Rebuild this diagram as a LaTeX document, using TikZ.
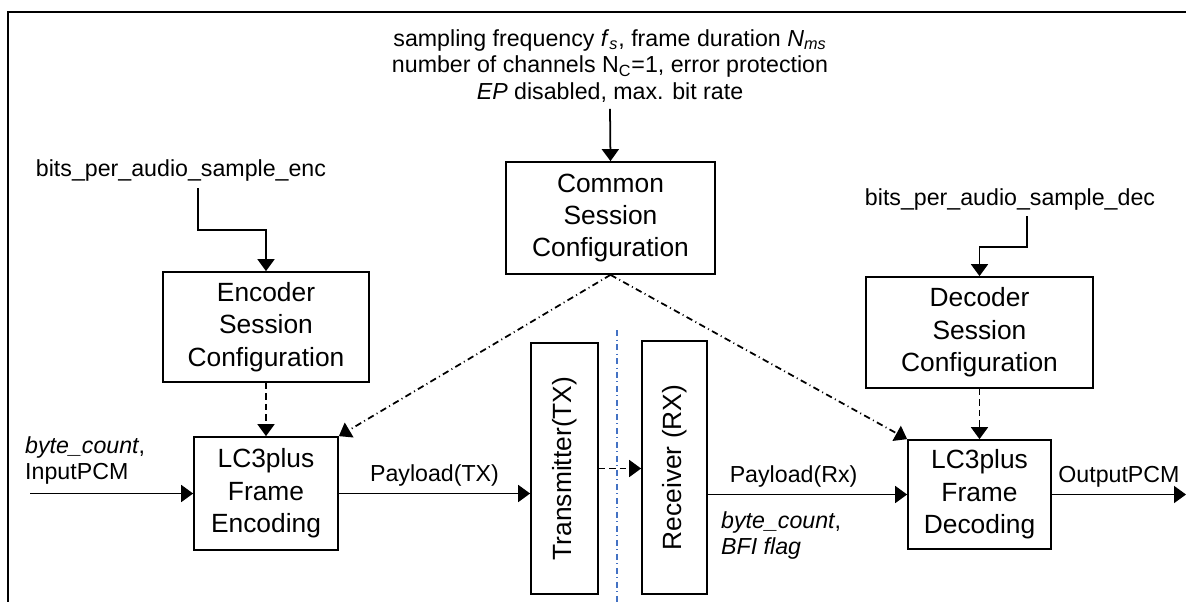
\documentclass[tikz,border=0pt]{standalone}
\usepackage{fontspec}
\setmainfont{Liberation Sans}
\usetikzlibrary{arrows.meta}
\definecolor{sepblue}{RGB}{68,114,196}
\tikzset{
  blk/.style={draw, line width=1pt, align=center, inner sep=0pt, font=\fontsize{15}{18.4}\selectfont},
  txt/.style={align=center, font=\fontsize{13.2}{15.3}\selectfont},
  arr/.style={line width=1pt, -{Triangle[length=0.24cm,width=0.34cm]}},
  dsh/.style={arr, dash pattern=on 0.13cm off 0.08cm},
  dshdot/.style={arr, dash pattern=on 0.13cm off 0.07cm on 0.02cm off 0.07cm},
}

\begin{document}
\begin{tikzpicture}[x=0.02cm,y=-0.02cm]
\useasboundingbox (0,0) rectangle (1186,602);
\draw [line width=1.1pt] (1186,12) -- (8,12) -- (8,602);
\draw [sepblue, line width=0.9pt, dash pattern=on 0.12cm off 0.07cm on 0.02cm off 0.07cm] (617,330) -- (617,602);

\node[txt] (params) at (610,66) {sampling frequency \textit{f}\textsubscript{\textit{s}}, frame duration \textit{N}\textsubscript{\textit{ms}}\\number of channels N\textsubscript{C}=1, error protection\\\textit{EP} disabled, max. bit rate};
\node[txt] (encparam) at (181,171) {bits\_per\_audio\_sample\_enc};
\node[txt] (decparam) at (1010,199) {bits\_per\_audio\_sample\_dec};

\node[blk, minimum width=4.18cm, minimum height=2.24cm] (common) at (610.5,218) {Common\\Session\\Configuration};
\node[blk, minimum width=4.12cm, minimum height=2.2cm] (encsess) at (266,327) {Encoder\\Session\\Configuration};
\node[blk, minimum width=2.88cm, minimum height=2.26cm] (enc) at (266,493.5) {LC3plus\\Frame\\Encoding};
\node[blk, minimum width=1.34cm, minimum height=5.02cm] (tx) at (564.5,468.5) {\rotatebox{90}{Transmitter(TX)}};
\node[blk, minimum width=1.3cm, minimum height=5.06cm] (rx) at (674.5,467.5) {\rotatebox{90}{Receiver (RX)}};
\node[blk, minimum width=4.54cm, minimum height=2.22cm] (decsess) at (979.5,332.5) {Decoder\\Session\\Configuration};
\node[blk, minimum width=2.86cm, minimum height=2.18cm] (dec) at (979.5,494.5) {LC3plus\\Frame\\Decoding};

\node[txt, align=left, anchor=north west] (inlbl) at (19,430) {\textit{byte\_count},\\InputPCM};
\node[txt, align=left, anchor=north west] (rxinfo) at (715,505) {\textit{byte\_count},\\\textit{BFI flag}};

\coordinate (encbend) at (198,230);
\coordinate (decbend) at (1027,247);
\coordinate (pcmin) at (30,493.5);
\coordinate (pcmout) at (1186,494.5);

\draw [arr] (params.south) -- (common.north);
\draw [arr] (encparam.south -| encbend) -- (encbend) -| (encsess.north);
\draw [arr] (decparam.south -| decbend) -- (decbend) -| (decsess.north);
\draw [dsh] (encsess.south) -- (enc.north);
\draw [dsh] (decsess.south) -- (dec.north);
\draw [dshdot] (common.south) -- (enc.north east);
\draw [dshdot] (common.south) -- (dec.north west);
\draw [arr] (pcmin) -- (enc.west);
\draw [arr] (enc.east) -- node[txt, above] {Payload(TX)} (enc.east -| tx.west);
\draw [dsh] (tx.east) -- (tx.east -| rx.west);
\draw [arr] (rx.east |- dec.west) -- node[txt, above, pos=0.43] {Payload(Rx)} (dec.west);
\draw [arr] (dec.east) -- node[txt, above] {OutputPCM} (pcmout);
\end{tikzpicture}
\end{document}
